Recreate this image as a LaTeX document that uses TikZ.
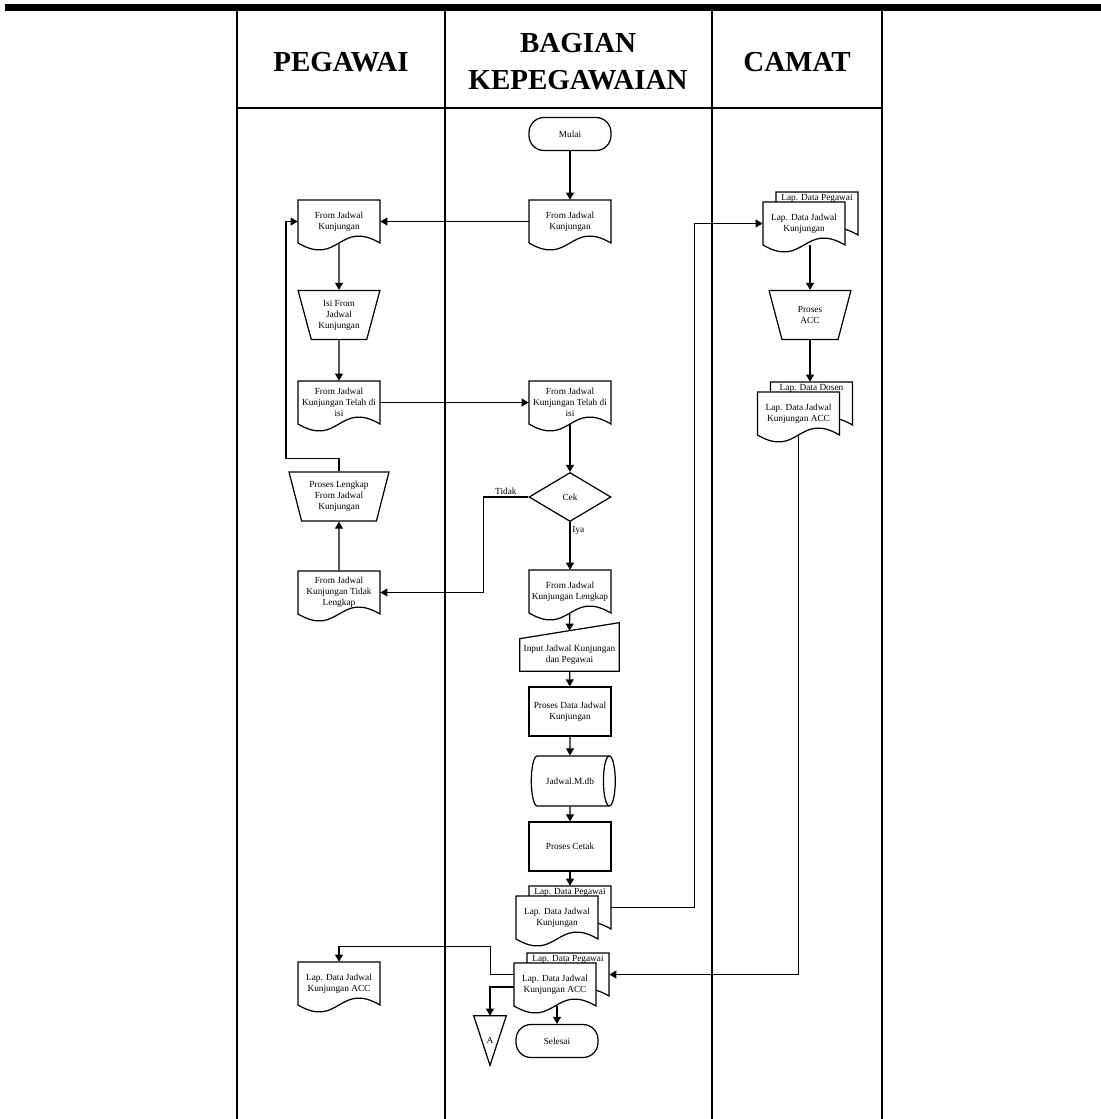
\documentclass[tikz,border=0pt]{standalone}
\usepackage{fontspec}
\setmainfont{Liberation Serif}
\usepackage{tikz}
\usetikzlibrary{arrows.meta,shapes.geometric,positioning,calc}

\newcommand{\flowfont}{\fontsize{5.3}{6.3}\selectfont}
\newcommand{\headfont}{\fontsize{16.5}{21}\selectfont\bfseries}

% document sheet with wavy bottom, text node on top
\newcommand{\docshape}[3]{%
  \coordinate (#1c) at (#2);
  \draw[shp] ($(#1c)+(-41,-21.5)$) -- ++(82,0) -- ++(0,43)
    .. controls +(-41,-24) and +(41,24) .. ++(-82,0) -- cycle;
  \node[doc] (#1) at (#1c) {#3};
}
% two stacked sheets
\newcommand{\multidoc}[4]{%
  \coordinate (#1f) at (#2);
  \docshape{#1b}{$(#1f)+(13,-10)$}{}
  \node[backtxt] (#1t) at ($(#1b.north)+(0,6.5)$) {#3};
  \docshape{#1}{#1f}{#4}
}

\begin{document}
\begin{tikzpicture}[x=0.02cm, y=-0.02cm,
    shp/.style={draw, line width=0.7pt, fill=white},
    doc/.style={minimum width=1.64cm, minimum height=0.86cm, inner sep=0pt, align=center, font=\flowfont},
    backtxt/.style={inner sep=0pt, font=\flowfont},
    proc/.style={draw, line width=0.7pt, minimum width=1.64cm, minimum height=0.98cm, inner sep=0pt, align=center, font=\flowfont},
    term/.style={proc, rounded corners=0.3cm, minimum height=0.66cm},
    manop/.style={proc, trapezium, trapezium angle=72, shape border rotate=180, trapezium stretches=true},
    dec/.style={proc, diamond},
    store/.style={proc, cylinder, shape aspect=1.8, minimum width=1cm, minimum height=1.68cm},
    arr/.style={-{Triangle[length=4pt,width=4.5pt]}, line width=0.7pt},
    lane/.style={line width=1.2pt},
    head/.style={align=center, font=\headfont},
    lbl/.style={font=\flowfont, inner sep=1pt}
]
\useasboundingbox (0,0) rectangle (1101,1119);

% lanes
\fill (5,4) rectangle (1101,11);
\foreach \x in {237,445,712,882} \draw[lane] (\x,11) -- (\x,1119);
\draw[lane, line width=1.6pt] (237,108) -- (882,108);
\node[head] (hpeg) at (341,62) {PEGAWAI};
\node[head] (hbag) at (578,62) {BAGIAN\\KEPEGAWAIAN};
\node[head] (hcam) at (797,62) {CAMAT};

% bagian kepegawaian
\node[term] (mulai) at (570,134) {Mulai};
\docshape{fjk}{570,221.5}{From Jadwal\\Kunjungan}
\docshape{ftelah}{570,402.5}{From Jadwal\\Kunjungan Telah di\\isi}
\node[dec] (cek) at (570,497) {Cek};
\docshape{flengkap}{570,591.5}{From Jadwal\\Kunjungan Lengkap}
\node[doc, minimum width=1.98cm, minimum height=0.64cm] (inp) at (569.5,655) {Input Jadwal Kunjungan\\dan Pegawai};
\draw[line width=0.7pt] (inp.south west) -- (inp.south east) -- ($(inp.north east)+(0,-16)$) -- (inp.north west) -- cycle;
\coordinate (inptop) at ($(inp.north)+(0,-8)$);
\node[proc] (pdata) at (570,711.5) {Proses Data Jadwal\\Kunjungan};
\node[store] (db) at (570,781) {Jadwal.M.db};
\node[proc] (pcetak) at (570,846.5) {Proses Cetak};
\multidoc{lapjk}{557,917.5}{Lap. Data Pegawai}{Lap. Data Jadwal\\Kunjungan}
\multidoc{lapacc}{555,984.5}{Lap. Data Pegawai}{Lap. Data Jadwal\\Kunjungan ACC}
\node[term] (selesai) at (557,1041) {Selesai};
\node[doc, minimum width=0.64cm, minimum height=0.98cm] (offA) at (490,1040.5) {A};
\draw[line width=0.7pt] (offA.north west) -- (offA.north east) -- (offA.south) -- cycle;

% pegawai
\docshape{kjk}{339,221.5}{From Jadwal\\Kunjungan}
\node[manop] (isi) at (339,315) {Isi From\\Jadwal\\Kunjungan};
\docshape{ktelah}{339,402.5}{From Jadwal\\Kunjungan Telah di\\isi}
\node[manop, minimum width=2cm] (plengkap) at (339,496.5) {Proses Lengkap\\From Jadwal\\Kunjungan};
\docshape{ktidak}{339,592.5}{From Jadwal\\Kunjungan Tidak\\Lengkap}
\docshape{kacc}{339,983.5}{Lap. Data Jadwal\\Kunjungan ACC}

% camat
\multidoc{cjk}{804,223.5}{Lap. Data Pegawai}{Lap. Data Jadwal\\Kunjungan}
\node[manop] (pacc) at (810,315) {Proses\\ACC};
\multidoc{cacc}{798.5,413.5}{Lap. Data Dosen}{Lap. Data Jadwal\\Kunjungan ACC}

% arus
\draw[arr] (mulai) -- (fjk);
\draw[arr] (fjk) -- (kjk);
\draw[arr] (kjk) -- (isi);
\draw[arr] (isi) -- (ktelah);
\draw[arr] (ktelah) -- (ftelah);
\draw[arr] (ftelah) -- (cek);
\draw[arr] (cek.west) -- node[lbl, above] (tidak) {Tidak} ++(-45,0) |- (ktidak.east);
\draw[arr] (cek.south) -- node[lbl, right, pos=0.18] (iya) {Iya} (flengkap.north);
\draw[arr] (ktidak) -- (plengkap);
\draw[arr] (plengkap.north) -- ++(0,-13) -- ++(-53,0) |- (kjk.west);
\draw[arr] (flengkap) -- (inptop);
\draw[arr] (inp) -- (pdata);
\draw[arr] (pdata) -- (db);
\draw[arr] (db) -- (pcetak);
\draw[arr] (pcetak) -- (lapjkb);
\draw[arr] (lapjkb.east) -- ++(83,0) |- (cjk.west);
\draw[arr] (cjk.south -| pacc.north) -- (pacc.north);
\draw[arr] (pacc.south) -- (pacc.south |- caccb.north);
\draw[arr] (cacc.south) |- (lapaccb.east);
\draw[arr] (selesai.north |- lapacc.south) -- (selesai.north);
\draw[arr] ($(lapacc.west)+(0,2.5)$) -| (offA.north);
\draw[arr] ($(lapacc.west)+(0,-10)$) -- ++(-23,0) -- ++(0,-28) -| (kacc.north);
\end{tikzpicture}
\end{document}
